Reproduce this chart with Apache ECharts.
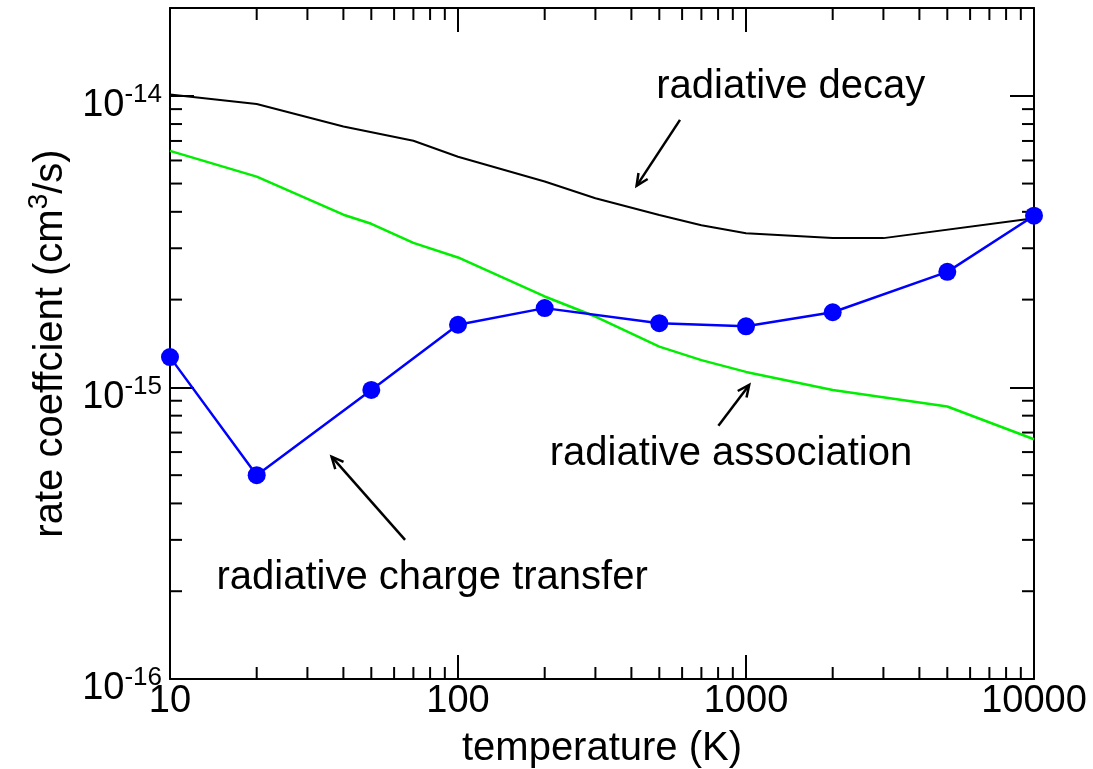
<!DOCTYPE html>
<html>
<head>
<meta charset="utf-8">
<script src="https://cdn.jsdelivr.net/npm/echarts@6/dist/echarts.min.js"></script>
<style>
  html, body { margin: 0; padding: 0; background: #fff; }
  #chart { width: 1093px; height: 769px; }
</style>
</head>
<body>
<div id="chart"></div>
<script>
// temperature (K) / rate coefficient (cm^3/s)
var decayT = [10, 20, 40, 70, 100, 200, 300, 500, 700, 1000, 2000, 3000, 10000];
var decayK = [1.01e-14, 9.37e-15, 7.85e-15, 7.01e-15, 6.18e-15, 5.08e-15, 4.45e-15, 3.90e-15, 3.60e-15, 3.38e-15, 3.25e-15, 3.25e-15, 3.80e-15];

var assocT = [10, 20, 40, 50, 70, 100, 200, 300, 500, 700, 1000, 2000, 5000, 10000];
var assocK = [6.47e-15, 5.28e-15, 3.91e-15, 3.64e-15, 3.13e-15, 2.79e-15, 2.05e-15, 1.75e-15, 1.38e-15, 1.24e-15, 1.13e-15, 9.8e-16, 8.6e-16, 6.64e-16];

var chargeT = [10, 20, 50, 100, 200, 500, 1000, 2000, 5000, 10000];
var chargeK = [1.27e-15, 5.0e-16, 9.8e-16, 1.64e-15, 1.87e-15, 1.66e-15, 1.62e-15, 1.81e-15, 2.49e-15, 3.88e-15];

// axis ranges and minor tick values
var xMin = 10, xMax = 10000;
var yMin = 1e-16, yMax = 2e-14;
var xMinorTicks = [20, 30, 40, 50, 60, 70, 80, 90,
                   200, 300, 400, 500, 600, 700, 800, 900,
                   2000, 3000, 4000, 5000, 6000, 7000, 8000, 9000];
var yMinorTicks = [2e-16, 3e-16, 4e-16, 5e-16, 6e-16, 7e-16, 8e-16, 9e-16,
                   2e-15, 3e-15, 4e-15, 5e-15, 6e-15, 7e-15, 8e-15, 9e-15];

// annotations in data coordinates
var notes = [
  { text: 'radiative decay', at: [1430, 1.07e-14], tail: [590, 8.27e-15], head: [417, 4.91e-15] },
  { text: 'radiative association', at: [887, 5.91e-16], tail: [802, 7.38e-16], head: [1026, 1.02e-15] },
  { text: 'radiative charge transfer', at: [81.3, 2.22e-16], tail: [65.5, 3.0e-16], head: [36.4, 5.79e-16] }
];

var FONT = '"Liberation Sans", Arial, Helvetica, sans-serif';

function zip(xs, ys) {
  return xs.map(function (x, i) { return [x, ys[i]]; });
}

function isDecade(v) {
  var e = Math.log10(v);
  return Math.abs(e - Math.round(e)) < 1e-6;
}

var chart = echarts.init(document.getElementById('chart'));

var frameAxis = {
  axisLine: { show: true, onZero: false, lineStyle: { color: '#000', width: 2 } },
  axisTick: { show: true, inside: true, length: 24, lineStyle: { color: '#000', width: 2 } },
  splitLine: { show: false },
  minorTick: { show: false }
};

var option = {
  backgroundColor: '#ffffff',
  animation: false,
  grid: { left: 170, right: 59, top: 8, bottom: 90, outerBoundsMode: 'none' },
  xAxis: [
    Object.assign({
      type: 'log', logBase: 10, min: xMin, max: xMax, position: 'bottom',
      name: 'temperature (K)', nameLocation: 'middle', nameGap: 50,
      nameTextStyle: { fontSize: 40, fontFamily: FONT, color: '#000' },
      axisLabel: {
        margin: 4, fontSize: 38, fontFamily: FONT, color: '#000',
        formatter: function (v) { return isDecade(v) ? String(Math.round(v)) : ''; }
      }
    }, frameAxis),
    Object.assign({
      type: 'log', logBase: 10, min: xMin, max: xMax, position: 'top',
      axisLabel: { show: false }
    }, frameAxis)
  ],
  yAxis: [
    Object.assign({
      type: 'log', logBase: 10, min: yMin, max: yMax, position: 'left',
      name: '{a|rate coeffcient (cm}{s|3}{a|/s)}', nameLocation: 'middle', nameGap: 102, nameRotate: 90,
      nameTextStyle: {
        color: '#000',
        rich: {
          a: { fontSize: 40, fontFamily: FONT, color: '#000', lineHeight: 40, padding: [12, 0, 0, 0] },
          s: { fontSize: 28, fontFamily: FONT, color: '#000', lineHeight: 28, verticalAlign: 'top' }
        }
      },
      axisLabel: {
        margin: 8,
        formatter: function (v) {
          if (!isDecade(v)) return '';
          return '{b|10}{s|' + Math.round(Math.log10(v)) + '}';
        },
        rich: {
          b: { fontSize: 38, fontFamily: FONT, color: '#000', lineHeight: 38, padding: [20, 0, 0, 0] },
          s: { fontSize: 26, fontFamily: FONT, color: '#000', lineHeight: 26, padding: [5, 0, 0, 0], verticalAlign: 'top' }
        }
      }
    }, frameAxis),
    Object.assign({
      type: 'log', logBase: 10, min: yMin, max: yMax, position: 'right',
      axisLabel: { show: false }
    }, frameAxis)
  ],
  series: [
    {
      type: 'custom', silent: true, coordinateSystem: 'cartesian2d', z: 5,
      data: xMinorTicks.map(function (v) { return [v, yMin]; }),
      renderItem: function (params, api) {
        var v = api.value(0);
        var b = api.coord([v, yMin]);
        var t = api.coord([v, yMax]);
        var st = { stroke: '#000', lineWidth: 2 };
        return { type: 'group', children: [
          { type: 'line', shape: { x1: b[0], y1: b[1], x2: b[0], y2: b[1] - 12 }, style: st },
          { type: 'line', shape: { x1: t[0], y1: t[1], x2: t[0], y2: t[1] + 12 }, style: st }
        ] };
      }
    },
    {
      type: 'custom', silent: true, coordinateSystem: 'cartesian2d', z: 5,
      data: yMinorTicks.map(function (v) { return [xMin, v]; }),
      renderItem: function (params, api) {
        var v = api.value(1);
        var l = api.coord([xMin, v]);
        var r = api.coord([xMax, v]);
        var st = { stroke: '#000', lineWidth: 2 };
        return { type: 'group', children: [
          { type: 'line', shape: { x1: l[0], y1: l[1], x2: l[0] + 12, y2: l[1] }, style: st },
          { type: 'line', shape: { x1: r[0], y1: r[1], x2: r[0] - 12, y2: r[1] }, style: st }
        ] };
      }
    },
    {
      name: 'radiative decay', type: 'line', data: zip(decayT, decayK),
      showSymbol: false, symbol: 'none', clip: false,
      lineStyle: { color: '#000000', width: 2 }, z: 6
    },
    {
      name: 'radiative association', type: 'line', data: zip(assocT, assocK),
      showSymbol: false, symbol: 'none', clip: false,
      lineStyle: { color: '#00ee00', width: 2.5 }, z: 7
    },
    {
      name: 'radiative charge transfer', type: 'line', data: zip(chargeT, chargeK),
      symbol: 'circle', symbolSize: 18, clip: false,
      itemStyle: { color: '#0000ff' },
      lineStyle: { color: '#0000ff', width: 2.5 }, z: 8
    }
  ]
};

chart.setOption(option);

// annotations: text + open arrows, placed through the axes
var elems = [];
notes.forEach(function (n) {
  var c = chart.convertToPixel({ xAxisIndex: 0, yAxisIndex: 0 }, n.at);
  var p0 = chart.convertToPixel({ xAxisIndex: 0, yAxisIndex: 0 }, n.tail);
  var p1 = chart.convertToPixel({ xAxisIndex: 0, yAxisIndex: 0 }, n.head);
  var dx = p1[0] - p0[0], dy = p1[1] - p0[1];
  var len = Math.sqrt(dx * dx + dy * dy);
  var ux = dx / len, uy = dy / len;
  var a = 25 * Math.PI / 180, w = 13;
  var w1 = [p1[0] - w * (ux * Math.cos(a) - uy * Math.sin(a)), p1[1] - w * (ux * Math.sin(a) + uy * Math.cos(a))];
  var w2 = [p1[0] - w * (ux * Math.cos(-a) - uy * Math.sin(-a)), p1[1] - w * (ux * Math.sin(-a) + uy * Math.cos(-a))];
  elems.push({
    type: 'text', x: c[0], y: c[1], z: 20,
    style: { text: n.text, fontSize: 40, fontFamily: FONT, fill: '#000',
             textAlign: 'center', textVerticalAlign: 'middle', align: 'center', verticalAlign: 'middle' }
  });
  elems.push({
    type: 'line', z: 20,
    shape: { x1: p0[0], y1: p0[1], x2: p1[0], y2: p1[1] },
    style: { stroke: '#000', lineWidth: 2.5 }
  });
  elems.push({
    type: 'polyline', z: 20,
    shape: { points: [w1, p1, w2] },
    style: { stroke: '#000', lineWidth: 2.5, fill: null }
  });
});
chart.setOption({ graphic: { elements: elems } });
</script>
</body>
</html>
